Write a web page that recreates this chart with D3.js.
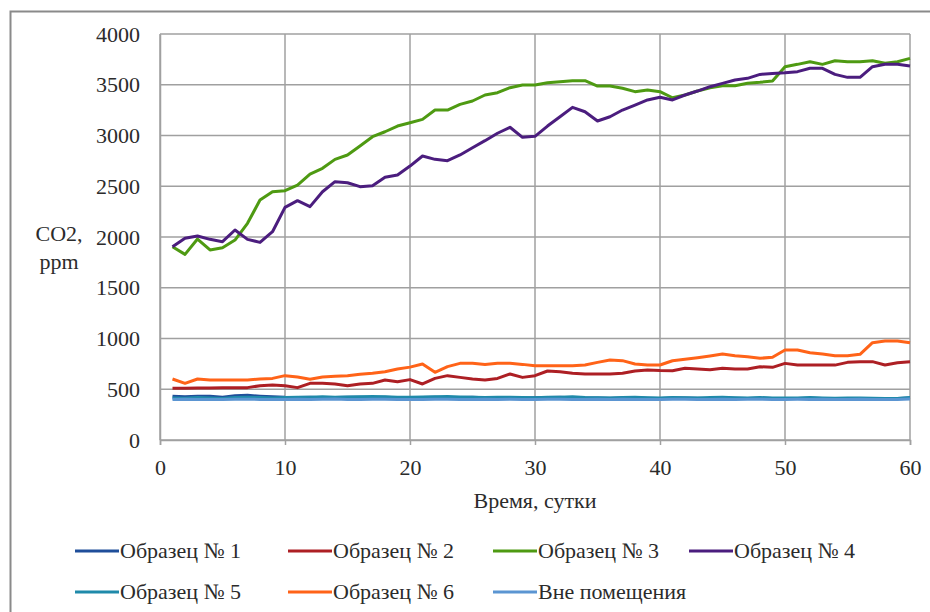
<!DOCTYPE html>
<html>
<head>
<meta charset="utf-8">
<script src="https://cdn.jsdelivr.net/npm/d3@7"></script>
<style>
  body { margin: 0; background: #fff; }
  svg text { font-family: 'Liberation Serif', 'Times New Roman', Times, serif; fill: #2b2b2b; }
</style>
</head>
<body>
<div id="chart"></div>
<script>
// days (x values)
const days = [1,2,3,4,5,6,7,8,9,10,11,12,13,14,15,16,17,18,19,20,
  21,22,23,24,25,26,27,28,29,30,31,32,33,34,35,36,37,38,39,40,
  41,42,43,44,45,46,47,48,49,50,51,52,53,54,55,56,57,58,59,60];

const sample1 = [430,425,432,430,422,435,440,432,425,420,418,420,416,418,420,422,418,420,417,415,
  418,420,416,418,420,417,415,418,414,416,418,420,415,413,415,412,414,416,412,410,
  413,415,412,410,413,411,410,412,410,408,410,412,410,408,410,409,410,406,408,415];
const sample2 = [509,509,512,512,516,516,516,535,542,535,516,558,558,552,535,552,558,591,574,595,
  552,607,634,617,601,591,607,650,617,634,680,673,657,650,650,650,657,680,690,685,
  683,706,699,693,706,699,699,722,716,755,738,738,738,738,765,772,772,739,762,772];
const sample3 = [1904,1829,1980,1872,1895,1970,2135,2364,2446,2456,2512,2620,2677,2765,2808,2896,2988,3037,3093,3126,
  3159,3251,3251,3307,3340,3399,3422,3471,3497,3497,3520,3530,3540,3540,3487,3487,3465,3432,3448,3432,
  3372,3399,3438,3471,3491,3491,3514,3524,3537,3678,3701,3727,3701,3737,3727,3727,3737,3711,3727,3760];
const sample4 = [1904,1987,2010,1977,1954,2069,1977,1947,2052,2292,2358,2299,2446,2545,2535,2496,2506,2588,2611,2699,
  2798,2765,2752,2808,2880,2949,3022,3081,2982,2992,3093,3185,3277,3234,3143,3185,3251,3300,3350,3376,
  3350,3399,3438,3481,3514,3547,3563,3602,3612,3619,3629,3662,3662,3602,3573,3573,3678,3701,3701,3685];
const sample5 = [415,412,418,415,410,418,420,418,415,418,420,422,425,422,424,426,428,425,422,420,
  424,426,428,424,420,418,422,420,418,416,422,420,425,418,416,414,418,420,417,415,
  418,416,414,418,420,416,414,418,415,413,415,418,414,412,415,413,412,410,408,418];
const sample6 = [601,558,601,591,591,591,591,601,607,634,620,598,620,627,634,647,657,673,699,718,
  749,667,723,755,755,745,755,755,745,732,732,732,732,739,765,788,782,749,739,739,
  781,795,811,828,847,831,821,805,815,887,887,860,847,831,831,844,959,975,975,958];
const outside = [400,402,400,398,400,402,401,400,399,400,402,400,401,403,400,399,401,402,400,398,
  400,402,401,399,400,402,400,401,399,400,402,401,400,399,401,400,402,400,398,400,
  401,402,400,399,401,400,402,401,399,400,401,400,402,400,399,401,400,398,400,405];

const seriesNames = ['Образец № 1','Образец № 2','Образец № 3','Образец № 4','Образец № 5','Образец № 6','Вне помещения'];
const seriesValues = [sample1, sample2, sample3, sample4, sample5, sample6, outside];
const seriesColors = ['#1f4e9a','#ad1f24','#4e9a12','#4b1d7e','#1f8aaa','#ff6318','#5b95d2'];

const xTicks = [0,10,20,30,40,50,60];
const yTicks = [0,500,1000,1500,2000,2500,3000,3500,4000];

const W = 930, H = 612;
const plot = { left: 160, right: 910, top: 34, bottom: 440 };
const fontSize = 22;

const svg = d3.select('#chart').append('svg')
  .attr('width', W).attr('height', H);

// outer frame (only left/top visible in the picture)
svg.append('rect')
  .attr('x', 10.5).attr('y', 11.5)
  .attr('width', 960).attr('height', 700)
  .attr('fill', 'none').attr('stroke', '#8a8a8a').attr('stroke-width', 2);

const x = d3.scaleLinear().domain([0, 60]).range([plot.left, plot.right]);
const y = d3.scaleLinear().domain([0, 4000]).range([plot.bottom, plot.top]);

// gridlines
svg.append('g').selectAll('line.h')
  .data(yTicks).enter().append('line')
  .attr('x1', plot.left).attr('x2', plot.right)
  .attr('y1', d => y(d)).attr('y2', d => y(d))
  .attr('stroke', '#a0a0a0').attr('stroke-width', 1.5);
svg.append('g').selectAll('line.v')
  .data(xTicks).enter().append('line')
  .attr('x1', d => x(d)).attr('x2', d => x(d))
  .attr('y1', plot.top).attr('y2', plot.bottom)
  .attr('stroke', '#a0a0a0').attr('stroke-width', 1.5);

// axes
const xAxis = d3.axisBottom(x).tickValues(xTicks).tickFormat(d3.format('d')).tickSize(5).tickPadding(14);
const yAxis = d3.axisLeft(y).tickValues(yTicks).tickFormat(d3.format('d')).tickSize(0).tickPadding(20);

const gx = svg.append('g').attr('transform', `translate(0,${plot.bottom})`).call(xAxis);
const gy = svg.append('g').attr('transform', `translate(${plot.left},0)`).call(yAxis);
[gx, gy].forEach(g => {
  g.attr('font-family', null).attr('font-size', fontSize);
  g.select('.domain').attr('stroke', '#a0a0a0').attr('stroke-width', 1.5);
  g.selectAll('.tick line').attr('stroke', '#a0a0a0').attr('stroke-width', 1.5);
  g.selectAll('.tick text').attr('fill', '#2b2b2b');
});

// axis titles
svg.append('text')
  .attr('x', (plot.left + plot.right) / 2).attr('y', 508)
  .attr('text-anchor', 'middle').attr('font-size', fontSize)
  .text('Время, сутки');
svg.append('text')
  .attr('x', 59).attr('y', 241)
  .attr('text-anchor', 'middle').attr('font-size', fontSize)
  .text('CO2,');
svg.append('text')
  .attr('x', 59).attr('y', 269)
  .attr('text-anchor', 'middle').attr('font-size', fontSize)
  .text('ppm');

// series lines
const line = d3.line()
  .x((d, i) => x(days[i]))
  .y(d => y(d));

svg.append('g').selectAll('path.series')
  .data(seriesValues).enter().append('path')
  .attr('class', 'series')
  .attr('d', d => line(d))
  .attr('fill', 'none')
  .attr('stroke', (d, i) => seriesColors[i])
  .attr('stroke-width', 3)
  .attr('stroke-linejoin', 'round');

// legend
const legendPos = [[75, 551], [288, 551], [493, 551], [689, 551], [75, 592], [288, 592], [493, 592]];
const lg = svg.append('g').selectAll('g.item')
  .data(seriesNames).enter().append('g')
  .attr('transform', (d, i) => `translate(${legendPos[i][0]},${legendPos[i][1]})`);
lg.append('line')
  .attr('x1', 0).attr('x2', 44).attr('y1', 0).attr('y2', 0)
  .attr('stroke', (d, i) => seriesColors[i]).attr('stroke-width', 3);
lg.append('text')
  .attr('x', 45).attr('y', 7)
  .attr('font-size', fontSize)
  .text(d => d);
</script>
</body>
</html>
